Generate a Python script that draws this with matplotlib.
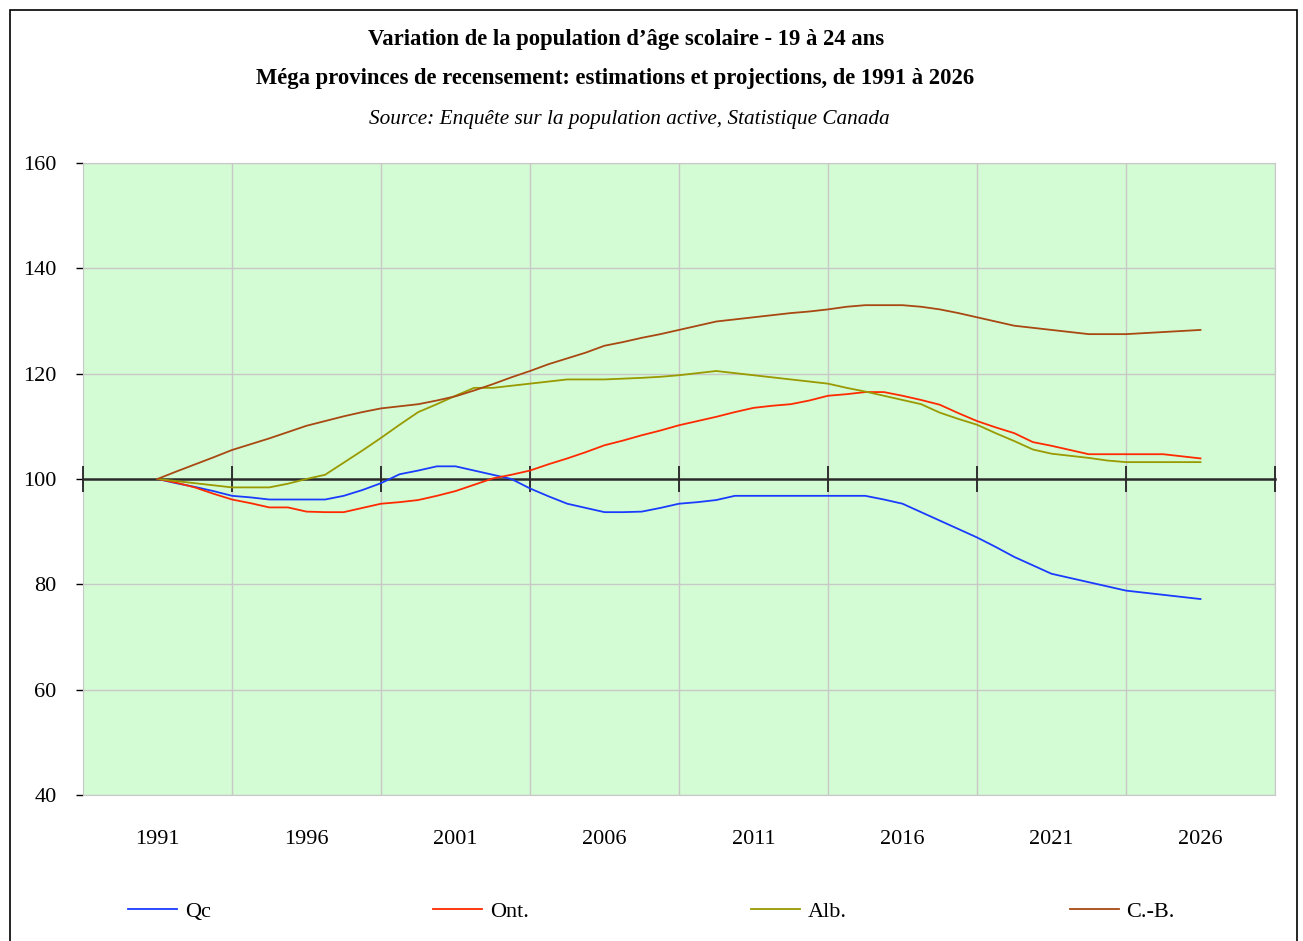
import matplotlib.pyplot as plt
import matplotlib.patches as patches
import numpy as np

plt.rcParams['font.family'] = ['Liberation Serif', 'DejaVu Serif']

# valeurs (indice 100 = 1991), 57 points
qc = [100, 99.2, 98.5, 97.7, 96.8, 96.5, 96.1, 96.1, 96.1, 96.1,
      96.8, 97.9, 99.2, 100.9, 101.6, 102.4, 102.4, 101.6, 100.8, 100.0,
      98.2, 96.7, 95.3, 94.5, 93.7, 93.7, 93.8, 94.5, 95.3, 95.6,
      96.0, 96.8, 96.8, 96.8, 96.8, 96.8, 96.8, 96.8, 96.8, 96.1,
      95.3, 93.7, 92.1, 90.5, 88.9, 87.1, 85.2, 83.6, 82.0, 81.2,
      80.4, 79.6, 78.8, 78.4, 78.0, 77.6, 77.2]
ont = [100, 99.3, 98.4, 97.2, 96.1, 95.4, 94.6, 94.6, 93.8, 93.7,
       93.7, 94.5, 95.3, 95.6, 96.0, 96.8, 97.7, 98.9, 100.1, 100.8,
       101.6, 102.8, 103.9, 105.1, 106.4, 107.3, 108.3, 109.2, 110.2, 111.0,
       111.8, 112.7, 113.5, 113.9, 114.2, 114.9, 115.8, 116.1, 116.5, 116.5,
       115.8, 115.0, 114.1, 112.5, 111.0, 109.8, 108.7, 107.0, 106.3, 105.5,
       104.7, 104.7, 104.7, 104.7, 104.7, 104.3, 103.9]
alb = [100, 99.6, 99.2, 98.8, 98.4, 98.4, 98.4, 99.1, 100.0, 100.8,
       103.1, 105.4, 107.8, 110.3, 112.7, 114.2, 115.8, 117.3, 117.3, 117.7,
       118.1, 118.5, 118.9, 118.9, 118.9, 119.05, 119.2, 119.4, 119.7, 120.1,
       120.5, 120.1, 119.7, 119.3, 118.9, 118.5, 118.1, 117.3, 116.6, 115.8,
       115.0, 114.2, 112.6, 111.4, 110.3, 108.7, 107.2, 105.6, 104.8, 104.4,
       104.0, 103.5, 103.2, 103.2, 103.2, 103.2, 103.2]
cb = [100, 101.4, 102.75, 104.1, 105.5, 106.6, 107.7, 108.9, 110.1, 111.0,
      111.9, 112.7, 113.4, 113.8, 114.2, 114.9, 115.7, 116.8, 118.0, 119.3,
      120.5, 121.8, 122.9, 124.0, 125.3, 126.0, 126.8, 127.5, 128.3, 129.1,
      129.9, 130.3, 130.7, 131.1, 131.5, 131.8, 132.2, 132.7, 133.0, 133.0,
      133.0, 132.7, 132.2, 131.5, 130.7, 129.9, 129.1, 128.7, 128.3, 127.9,
      127.5, 127.5, 127.5, 127.7, 127.9, 128.1, 128.3]
year_labels = ['1991', '1996', '2001', '2006', '2011', '2016', '2021', '2026']
y_grid = [40, 60, 80, 120, 140, 160]

x = np.arange(len(qc))

fig = plt.figure(figsize=(13.03, 9.41), dpi=100)
ax = fig.add_axes([0.0637, 0.1552, 0.9148, 0.6716])
ax.set_facecolor('#D4FCD4')

ax.plot(x, qc, color='#1A3CFF', lw=1.3, label='Qc', zorder=4)
ax.plot(x, ont, color='#FF2A00', lw=1.3, label='Ont.', zorder=4)
ax.plot(x, alb, color='#999900', lw=1.3, label='Alb.', zorder=4)
ax.plot(x, cb, color='#A84812', lw=1.3, label='C.-B.', zorder=4)

ax.set_xlim(-4, 60)
ax.set_ylim(40, 160)
ax.set_yticks(range(40, 161, 20))
ax.set_xticks(np.arange(len(year_labels)) * 8)
ax.set_xticklabels(year_labels)
ax.set_xticks(np.arange(4, 61, 8), minor=True)
ax.grid(True, which='minor', axis='x', color='#C8C8C8', lw=1)
for g in y_grid:
    ax.axhline(g, color='#C8C8C8', lw=1, zorder=0.5)
ax.tick_params(axis='x', which='both', length=0, pad=25, labelsize=16)
ax.tick_params(axis='y', length=5, width=1, pad=14, labelsize=16, color='black')
for s in ['top', 'right', 'bottom', 'left']:
    ax.spines[s].set_color('#C8C8C8')

# axe horizontal qui croise a 100
sec = ax.secondary_xaxis(0.5)
sec.set_zorder(3)
sec.set_xticks(np.arange(-4, 61, 8))
sec.tick_params(direction='inout', length=19, width=1.3, color='#222222',
                labeltop=False, labelbottom=False)
for name, s in sec.spines.items():
    s.set_visible(name == 'top')
sec.spines['top'].set_color('#2A2A2A')
sec.spines['top'].set_linewidth(1.8)

fig.text(0.4804, 0.9575, "Variation de la population d\u2019âge scolaire - 19 à 24 ans",
         ha='center', va='center', fontsize=16.3, fontweight='bold')
fig.text(0.472, 0.9171, "Méga provinces de recensement: estimations et projections, de 1991 à 2026",
         ha='center', va='center', fontsize=16.3, fontweight='bold')
fig.text(0.4827, 0.8725, "Source: Enquête sur la population active, Statistique Canada",
         ha='center', va='center', fontsize=15.3, style='italic')

fig.legend(loc='center', bbox_to_anchor=(0.0829, 0.011, 0.834, 0.04), mode='expand',
           ncol=4, frameon=False, fontsize=16, handlelength=2.2, handletextpad=0.35)

fig.patches.append(patches.Rectangle((0.0077, -0.05), 0.9877, 1.0394, transform=fig.transFigure,
                                     fill=False, edgecolor='black', lw=1.2))

plt.savefig('out.png')
